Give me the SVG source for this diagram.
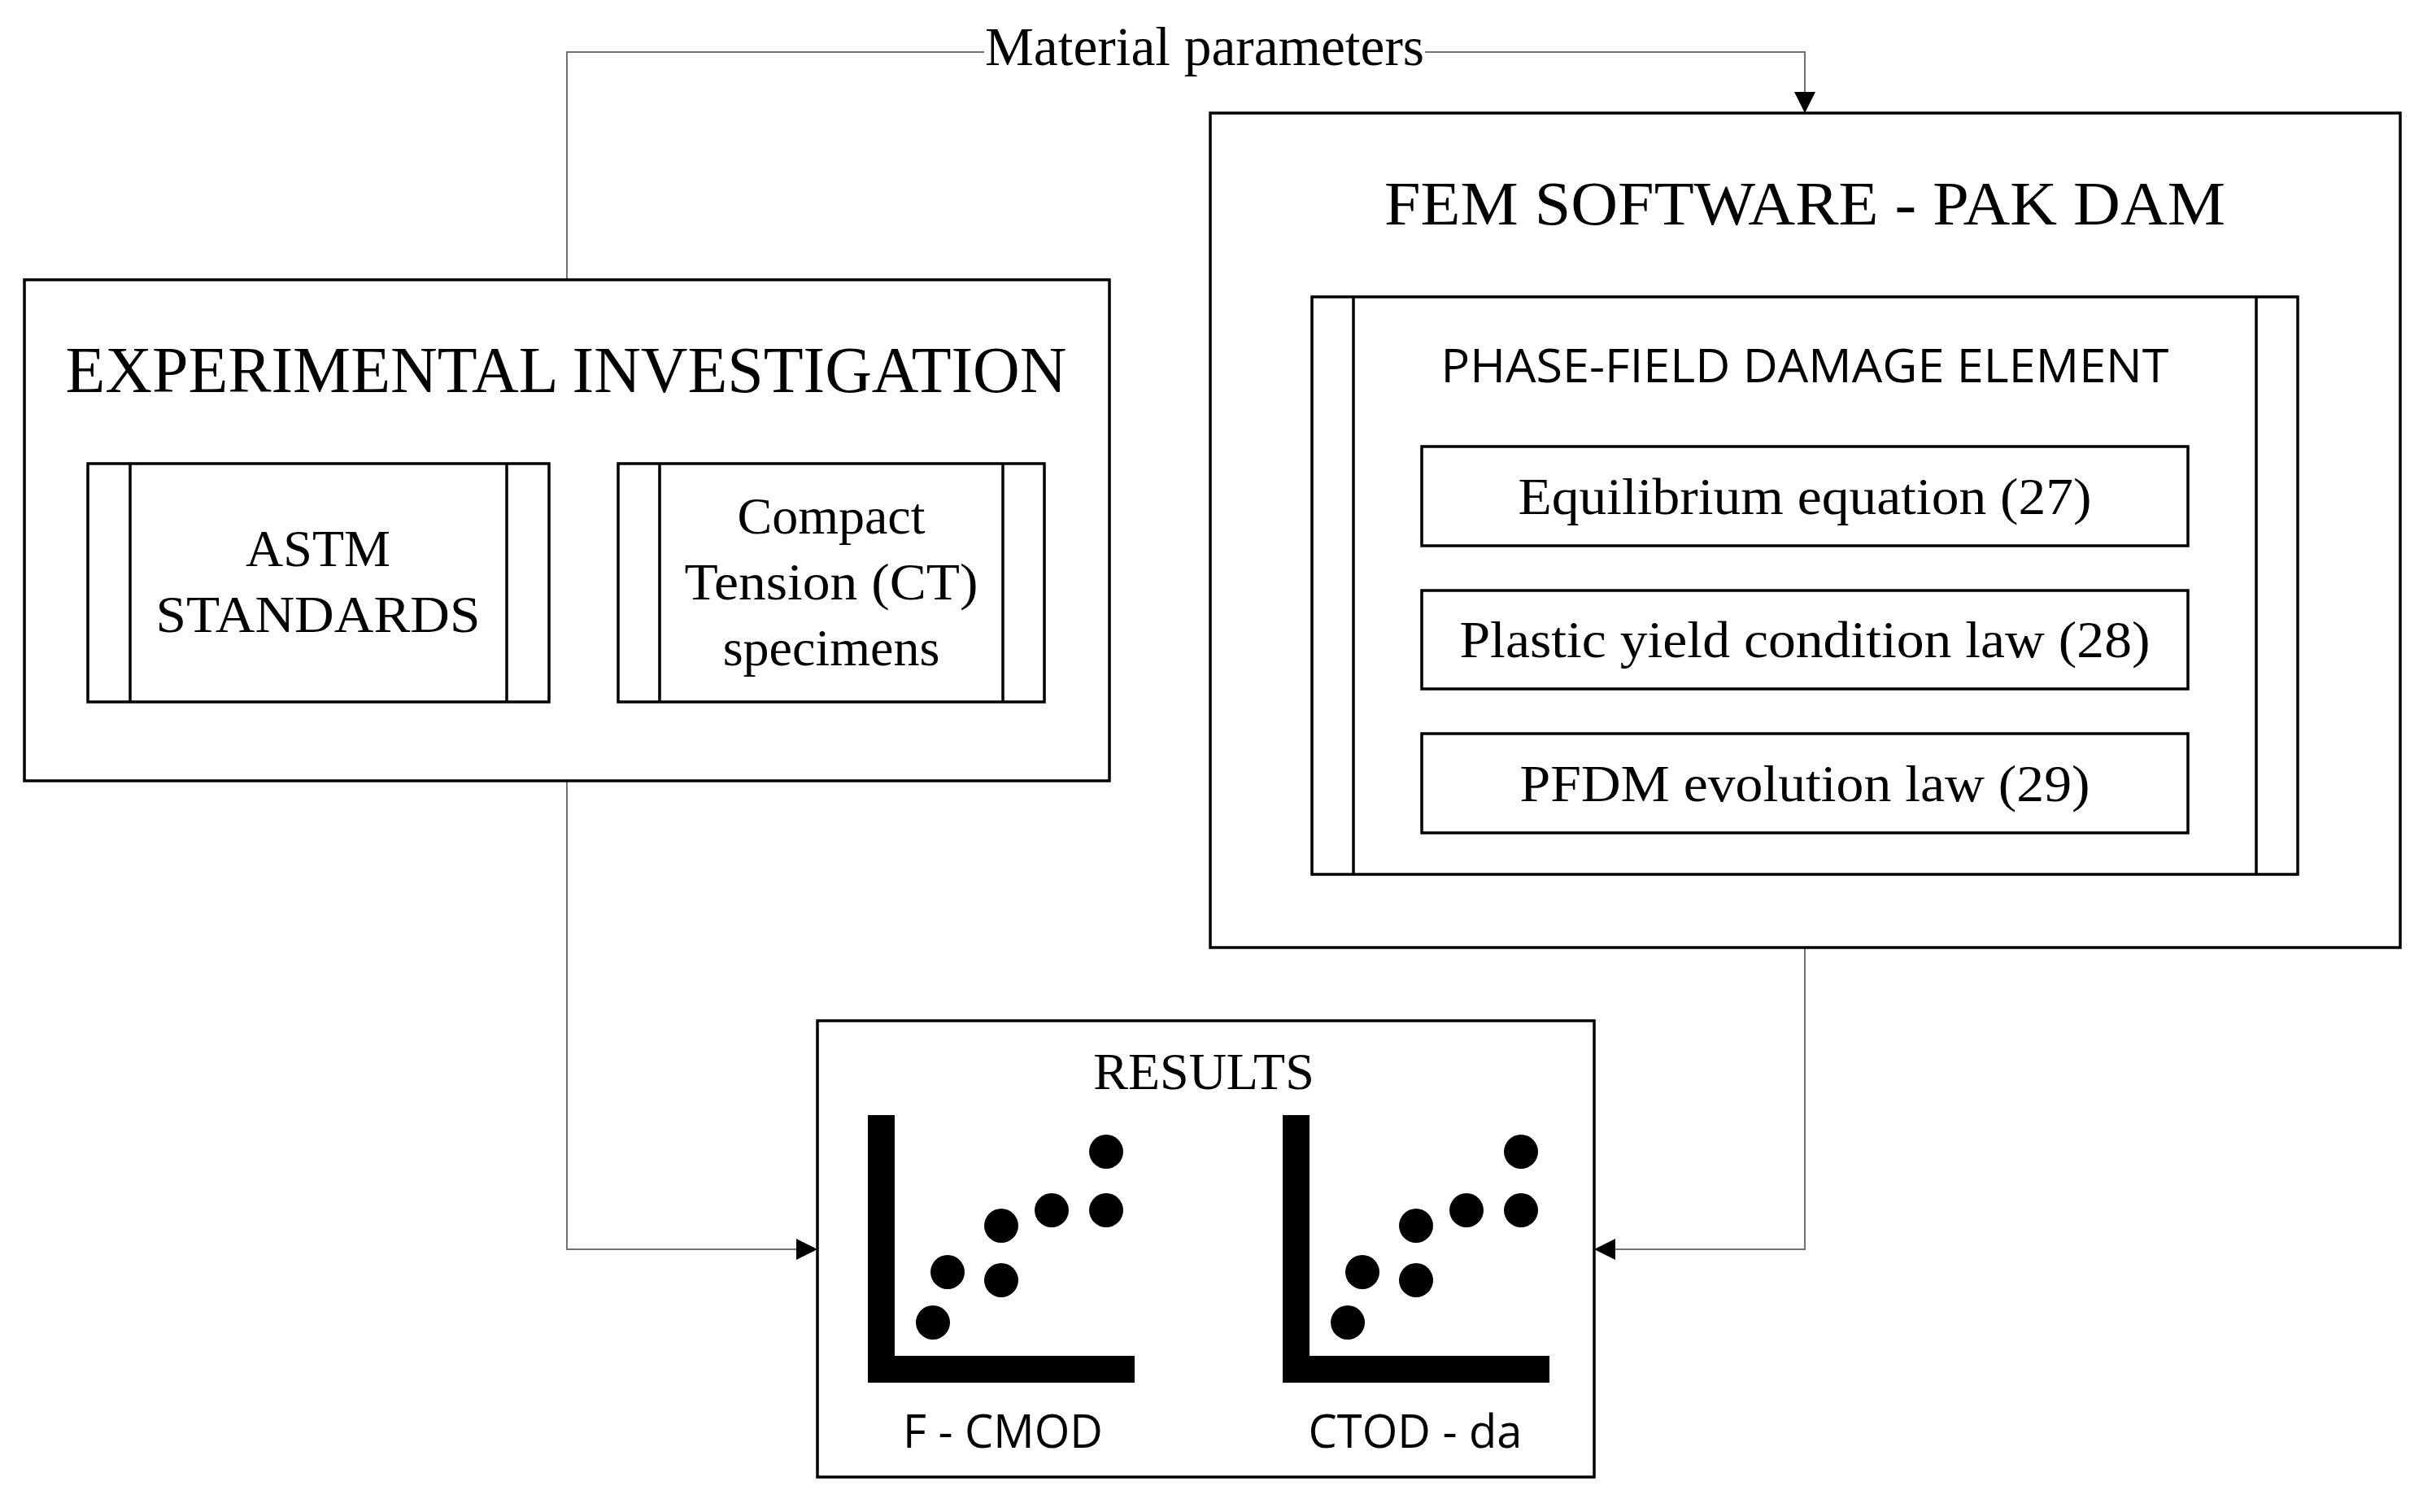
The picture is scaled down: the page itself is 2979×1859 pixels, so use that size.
<svg xmlns="http://www.w3.org/2000/svg" width="2979" height="1859" viewBox="0 0 2979 1859">
<style>
.b{fill:none;stroke:#000;stroke-width:3.5}
.c{fill:none;stroke:#707070;stroke-width:2}
.t{font-family:"Liberation Serif",serif;fill:#000;text-anchor:middle}
.s{font-family:"Open Sans","Liberation Sans",sans-serif;fill:#000;text-anchor:middle}
</style>
<defs><marker id="a" markerWidth="12" markerHeight="12" refX="11" refY="6" orient="auto" markerUnits="userSpaceOnUse" viewBox="0 0 12 12"><path d="M0,0L12,6L0,12z" fill="#000"/></marker>
<marker id="a2" markerWidth="26" markerHeight="26" refX="24" refY="13" orient="auto" markerUnits="userSpaceOnUse" viewBox="0 0 26 26"><path d="M0,0L26,13L0,26z" fill="#000"/></marker></defs>
<rect width="2979" height="1859" fill="#fff"/>
<g id="connectors">
<path class="c" d="M697,344V64H1210"/>
<path class="c" d="M1752,64H2219V137" marker-end="url(#a2)"/>
<path class="c" d="M697,960V1536H1003" marker-end="url(#a2)"/>
<path class="c" d="M2219,1165V1536H1962" marker-end="url(#a2)"/>
<text class="t" x="1481" y="80" font-size="68" textLength="540" lengthAdjust="spacingAndGlyphs">Material parameters</text>
</g>
<g id="exp">
<rect class="b" x="30" y="344" width="1334" height="616"/>
<text class="t" x="696" y="482" font-size="80" textLength="1231" lengthAdjust="spacingAndGlyphs">EXPERIMENTAL INVESTIGATION</text>
</g>
<g id="astm">
<rect class="b" x="108" y="570" width="567" height="293"/>
<path class="b" d="M160,570V863M623,570V863"/>
<text class="t" x="391" y="696" font-size="64">ASTM</text>
<text class="t" x="391" y="777" font-size="64" textLength="399" lengthAdjust="spacingAndGlyphs">STANDARDS</text>
</g>
<g id="ct">
<rect class="b" x="760" y="570" width="524" height="293"/>
<path class="b" d="M811,570V863M1233,570V863"/>
<text class="t" x="1022" y="656" font-size="64">Compact</text>
<text class="t" x="1022" y="737" font-size="64" textLength="361" lengthAdjust="spacingAndGlyphs">Tension (CT)</text>
<text class="t" x="1022" y="818" font-size="64">specimens</text>
</g>
<g id="fem">
<rect class="b" x="1488" y="139" width="1463" height="1026"/>
<text class="t" x="2219" y="276" font-size="76" textLength="1034" lengthAdjust="spacingAndGlyphs">FEM SOFTWARE - PAK DAM</text>
</g>
<g id="phase">
<rect class="b" x="1613" y="365" width="1212" height="710"/>
<path class="b" d="M1664,365V1075M2774,365V1075"/>
<text class="s" x="2219" y="470" font-size="56" textLength="895" lengthAdjust="spacingAndGlyphs">PHASE-FIELD DAMAGE ELEMENT</text>
</g>
<g id="eq27"><rect class="b" x="1748" y="549" width="942" height="122"/><text class="t" x="2219" y="632" font-size="64" textLength="705" lengthAdjust="spacingAndGlyphs">Equilibrium equation (27)</text></g>
<g id="eq28"><rect class="b" x="1748" y="726" width="942" height="121"/><text class="t" x="2219" y="808" font-size="64" textLength="849" lengthAdjust="spacingAndGlyphs">Plastic yield condition law (28)</text></g>
<g id="eq29"><rect class="b" x="1748" y="902" width="942" height="122"/><text class="t" x="2219" y="985" font-size="64" textLength="701" lengthAdjust="spacingAndGlyphs">PFDM evolution law (29)</text></g>
<g id="results">
<rect class="b" x="1005" y="1255" width="955" height="561"/>
<text class="t" x="1480" y="1339" font-size="64">RESULTS</text>
<g id="chart1">
<path d="M1067,1371H1100V1667H1395V1700H1067Z" fill="#000"/>
<g fill="#000"><circle cx="1147" cy="1626" r="21"/><circle cx="1165" cy="1564" r="21"/><circle cx="1231" cy="1574" r="21"/><circle cx="1231" cy="1507" r="21"/><circle cx="1293" cy="1488" r="21"/><circle cx="1360" cy="1488" r="21"/><circle cx="1360" cy="1416" r="21"/></g>
<text class="s" x="1233" y="1780" font-size="56">F - CMOD</text>
</g>
<g id="chart2" transform="translate(510,0)">
<path d="M1067,1371H1100V1667H1395V1700H1067Z" fill="#000"/>
<g fill="#000"><circle cx="1147" cy="1626" r="21"/><circle cx="1165" cy="1564" r="21"/><circle cx="1231" cy="1574" r="21"/><circle cx="1231" cy="1507" r="21"/><circle cx="1293" cy="1488" r="21"/><circle cx="1360" cy="1488" r="21"/><circle cx="1360" cy="1416" r="21"/></g>
<text class="s" x="1230" y="1780" font-size="56">CTOD - da</text>
</g>
</g>
</svg>
